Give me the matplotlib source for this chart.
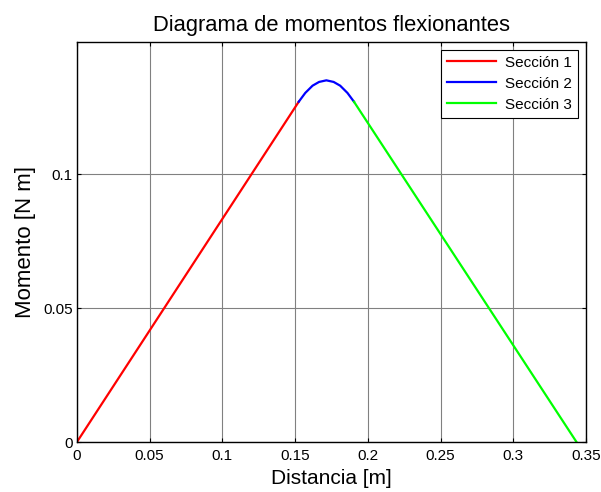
import matplotlib
matplotlib.use("Agg")
import matplotlib.pyplot as plt

plt.rcParams['font.family'] = ['Liberation Sans', 'DejaVu Sans']

# Section 1 (linear)
x1 = [0.0, 0.1525]
y1 = [0.0, 0.1270]
# Section 2 (parabolic)
x2 = [0.1525, 0.157, 0.162, 0.1665, 0.1715, 0.1765, 0.181, 0.186, 0.1905]
y2 = [0.1270, 0.1303, 0.1330, 0.1344, 0.1350, 0.1344, 0.1330, 0.1303, 0.1270]
# Section 3 (linear)
x3 = [0.1905, 0.3435]
y3 = [0.1270, 0.0]

labels = ['Sección 1', 'Sección 2', 'Sección 3']
colors = ['#ff0000', '#0000ff', '#00ff00']
xticks = [0, 0.05, 0.1, 0.15, 0.2, 0.25, 0.3, 0.35]
xticklabels = ['0', '0.05', '0.1', '0.15', '0.2', '0.25', '0.3', '0.35']
yticks = [0, 0.05, 0.1]
yticklabels = ['0', '0.05', '0.1']

fig = plt.figure(figsize=(6.01, 4.92), dpi=100)
ax = fig.add_axes([0.128, 0.1016, 0.847, 0.813])
for xs, ys, lab, c in zip([x1, x2, x3], [y1, y2, y3], labels, colors):
    ax.plot(xs, ys, color=c, lw=1.6, label=lab)

ax.set_xlim(0, 0.35)
ax.set_ylim(0, 0.1493)
ax.set_xticks(xticks)
ax.set_xticklabels(xticklabels)
ax.set_yticks(yticks)
ax.set_yticklabels(yticklabels)
ax.grid(True, color='#808080', lw=0.8)
ax.set_axisbelow(True)
ax.tick_params(direction='in', top=True, right=True, length=3, labelsize=11, width=0.8)
ax.tick_params(axis='x', pad=5)
ax.tick_params(axis='y', pad=3)
for s in ax.spines.values():
    s.set_linewidth(1.0)
ax.set_title('Diagrama de momentos flexionantes', fontsize=15.8, pad=8)
ax.set_xlabel('Distancia [m]', fontsize=15, labelpad=4)
ax.set_ylabel('Momento [N m]', fontsize=16, labelpad=5)
leg = ax.legend(loc='upper right', fontsize=11, fancybox=False, framealpha=1,
                edgecolor='black', borderpad=0.4, handlelength=3.2,
                labelspacing=0.45, borderaxespad=0.5, handletextpad=0.6)
leg.get_frame().set_linewidth(0.8)

fig.savefig('out.png', dpi=100)
